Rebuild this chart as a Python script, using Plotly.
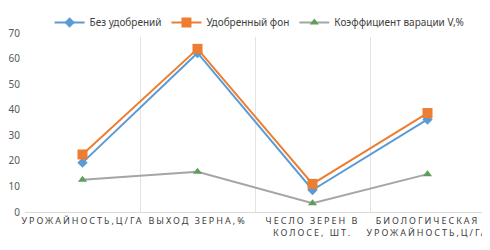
import plotly.graph_objects as go

categories = [
    "УРОЖАЙНОСТЬ,Ц/ГА",
    "ВЫХОД ЗЕРНА,%",
    "ЧЕСЛО ЗЕРЕН В<br>КОЛОСЕ, ШТ.",
    "БИОЛОГИЧЕСКАЯ<br>УРОЖАЙНОСТЬ,Ц/ГА",
]
no_fert = [19.3, 62.2, 8.6, 36.2]
fert_bg = [22.5, 63.8, 11.0, 38.7]
variation = [12.6, 15.7, 3.4, 14.8]

fig = go.Figure()
fig.add_trace(go.Scatter(
    x=categories, y=no_fert, name="Без удобрений", mode="lines+markers",
    line=dict(color="#5B9BD5", width=2),
    marker=dict(symbol="diamond", size=8, color="#5B9BD5"),
))
fig.add_trace(go.Scatter(
    x=categories, y=fert_bg, name="Удобренный фон", mode="lines+markers",
    line=dict(color="#ED7D31", width=2),
    marker=dict(symbol="square", size=10, color="#ED7D31"),
))
fig.add_trace(go.Scatter(
    x=categories, y=variation, name="Коэффициент варации V,%", mode="lines+markers",
    line=dict(color="#A5A5A5", width=2),
    marker=dict(symbol="triangle-up", size=8, color="#5E9E5A"),
))

# page body has an 8px margin, so the figure is sized to the remaining area
fig.update_layout(
    width=482, height=242,
    margin=dict(l=17, r=5, t=25, b=38, autoexpand=False),
    paper_bgcolor="white", plot_bgcolor="white",
    font=dict(family="Noto Sans", size=10, color="#595959"),
    showlegend=True,
    legend=dict(orientation="h", x=0.51, xanchor="center", y=1.14, yanchor="top",
                font=dict(size=10, color="#404040"), tracegroupgap=0),
    xaxis=dict(
        type="category", range=[-0.5, 3.5], tickson="boundaries", showgrid=True,
        gridcolor="#E3E3E3", gridwidth=1, showline=True, linecolor="#D9D9D9",
        ticks="", tickfont=dict(size=9, color="#404040"),
        zeroline=False, automargin=False,
    ),
    yaxis=dict(
        range=[0, 70], dtick=10, showgrid=False, zeroline=False,
        showline=False, ticks="", tickfont=dict(size=10, color="#595959"),
        automargin=False, ticklabelstandoff=4,
    ),
)

# spaced-out capitals on the category labels, like the source chart
spacing = """
document.querySelectorAll('.xtick text').forEach(function (t) {
    t.setAttribute('letter-spacing', '2px');
});
"""

fig.write_html("out.html", post_script=spacing)
